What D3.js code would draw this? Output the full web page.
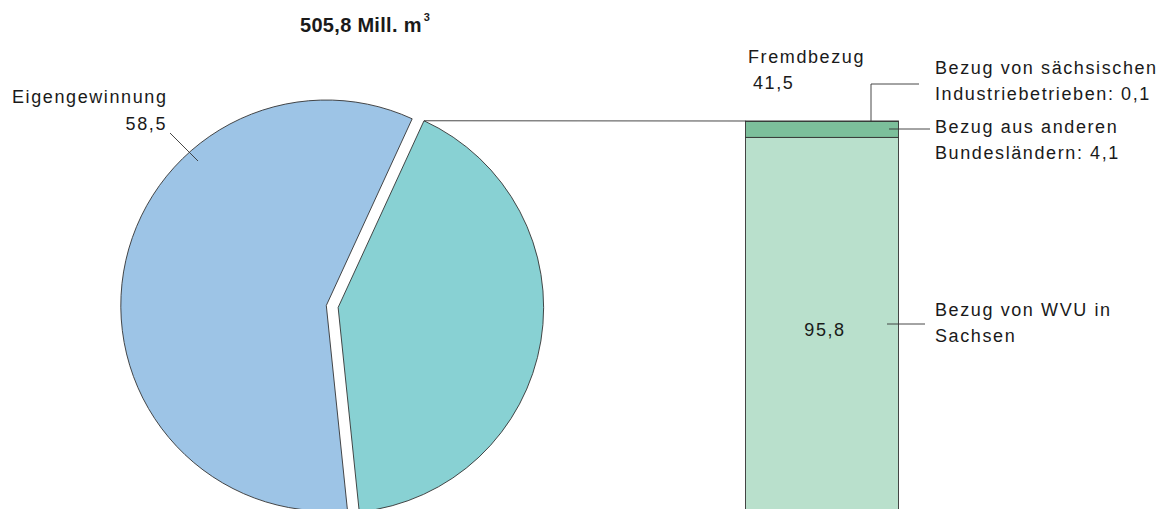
<!DOCTYPE html>
<html>
<head>
<meta charset="utf-8">
<script src="https://cdn.jsdelivr.net/npm/d3@7"></script>
<style>
  body{margin:0;background:#fff}
  svg{display:block}
  text{font-family:"Liberation Sans",Arial,sans-serif;font-size:18px;fill:#1a1a1a;letter-spacing:1.6px}
</style>
</head>
<body>
<svg id="chart" width="1169" height="509"></svg>
<script>
// pie: Fremdbezug vs Eigengewinnung (percent of 505,8 Mill. m3)
const pieNames = ["Fremdbezug","Eigengewinnung"]
const pieValues = [41.5, 58.5]
const pieColors = ["#88d1d3","#9dc4e6"]
// bar: split of Fremdbezug (percent), bottom to top
const barNames = ["Bezug von WVU in Sachsen","Bezug aus anderen Bundesländern","Bezug von sächsischen Industriebetrieben"]
const barValues = [95.8, 4.1, 0.1]
const barColors = ["#b9e0cc","#7cbf9b","#5aa57c"]

const svg = d3.select("#chart")
const cx = 326.3, cy = 305.5, r = 205.5
const startA = 24.7*Math.PI/180   // Fremdbezug slice starts here
const explode = 12

// title
const title = svg.append("text").attr("x",300).attr("y",32)
  .style("font-weight","bold").style("font-size","20px").style("letter-spacing","0.3px")
title.append("tspan").text("505,8 Mill. m")
title.append("tspan").attr("dx",2).attr("dy",-11).style("font-size","11px").text("3")

//pie
const pie = d3.pie().sort(null).startAngle(startA).endAngle(startA+2*Math.PI)
const arcs = pie(pieValues)
const arc = d3.arc().innerRadius(0).outerRadius(r)

const slices = svg.append("g").attr("transform",`translate(${cx},${cy})`)
slices.selectAll("path").data(arcs).enter().append("path")
  .attr("d",arc)
  .attr("fill",(d,i)=>pieColors[i])
  .attr("stroke","#333").attr("stroke-width",0.9)
  .attr("transform",(d,i)=>{
    if(i!==0) return null
    let mid=(d.startAngle+d.endAngle)/2
    return `translate(${explode*Math.sin(mid)},${-explode*Math.cos(mid)})`
  })

// bar
const barX = 745.5, barW = 153
const y = d3.scaleLinear().domain([0,100]).range([511,121])
let acc = 0
const stack = barValues.map(v=>{let s={y0:acc,y1:acc+v};acc+=v;return s})
const bars = svg.append("g")
bars.selectAll("rect").data(stack).enter().append("rect")
  .attr("x",barX).attr("width",barW)
  .attr("y",d=>y(d.y1)).attr("height",d=>y(d.y0)-y(d.y1))
  .attr("fill",(d,i)=>barColors[i])
  .attr("stroke","#333").attr("stroke-width",0.9)

// connector from pie tip to bar top
const g0 = arcs[0]
const gMid=(g0.startAngle+g0.endAngle)/2
const tipX = cx+explode*Math.sin(gMid)+r*Math.sin(g0.startAngle)
const tipY = cy-explode*Math.cos(gMid)-r*Math.cos(g0.startAngle)
svg.append("line").attr("x1",tipX).attr("y1",tipY).attr("x2",barX).attr("y2",y(100))
  .attr("stroke","#333").attr("stroke-width",0.9)

// labels + leader lines
function lines(x,y0,arr,anchor="start"){
  arr.forEach((t,i)=>svg.append("text").attr("x",x).attr("y",y0+i*26).attr("text-anchor",anchor).text(t))
}
function leader(pts){
  svg.append("path").attr("d",d3.line()(pts)).attr("fill","none").attr("stroke","#333").attr("stroke-width",0.9)
}
const fmt = v=>String(v).replace(".",",")

lines(12,103,[pieNames[1]])
lines(167,130,[fmt(pieValues[1])],"end")
leader([[170,133],[198,161]])

lines(748,63,[pieNames[0]])
lines(753,89,[fmt(pieValues[0])])

lines(935,74,["Bezug von sächsischen","Industriebetrieben: "+fmt(barValues[2])])
leader([[871,y(100)],[871,84],[919,84]])

lines(935,133,["Bezug aus anderen","Bundesländern: "+fmt(barValues[1])])
leader([[889,129],[930,129]])

lines(935,316,["Bezug von WVU in","Sachsen"])
leader([[887,324],[925,324]])
svg.append("text").attr("x",barX+barW/2+3).attr("y",336).attr("text-anchor","middle").text(fmt(barValues[0]))
</script>
</body>
</html>
